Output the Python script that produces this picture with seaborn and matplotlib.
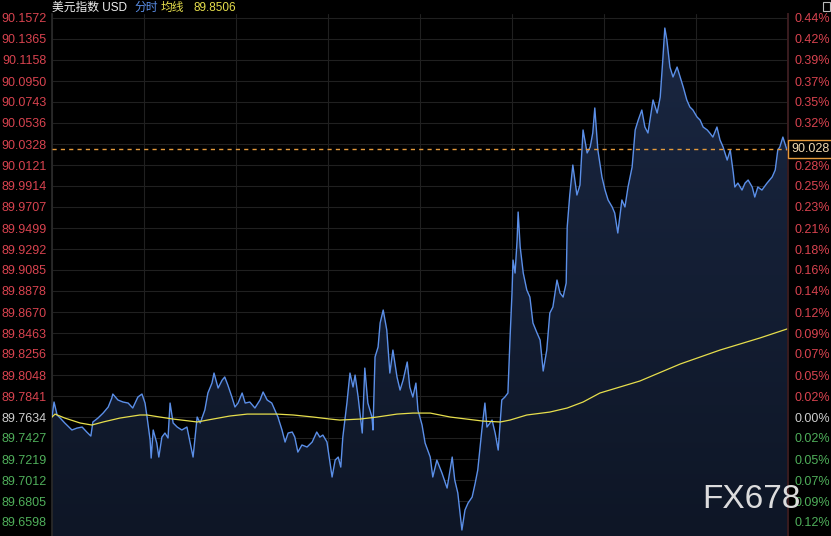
import numpy as np
import pandas as pd
import matplotlib
matplotlib.use("Agg")
import matplotlib.pyplot as plt
import matplotlib.transforms as mtransforms
from matplotlib.colors import LinearSegmentedColormap
from matplotlib.patches import Rectangle
import seaborn as sns

# ------------------------------
# Data
# ------------------------------

prev_close = 89.7634
last_price = 90.028
avg_last = 89.8506

y_ticks = [90.1572, 90.1365, 90.1158, 90.0950, 90.0743, 90.0536, 90.0328, 90.0121,
           89.9914, 89.9707, 89.9499, 89.9292, 89.9085, 89.8878, 89.8670, 89.8463,
           89.8256, 89.8048, 89.7841, 89.7634, 89.7427, 89.7219, 89.7012, 89.6805,
           89.6598]

# minutes into the session
price_t = [0, 4, 10, 16, 25, 39, 49, 59, 68, 76,
           80, 90, 100, 110, 117, 119, 129, 139, 149, 158,
           168, 176, 182, 186, 192, 194, 198, 205, 209, 215,
           221, 227, 231, 237, 245, 254, 264, 270, 276, 284,
           290, 299, 305, 313, 317, 325, 333, 338, 344, 352,
           358, 364, 372, 378, 387, 397, 407, 413, 421, 430,
           436, 442, 450, 456, 462, 470, 475, 481, 489, 499,
           509, 518, 524, 530, 538, 544, 548, 554, 560, 565,
           569, 577, 583, 589, 593, 599, 607, 612, 618, 626,
           628, 632, 638, 642, 648, 655, 661, 667, 675, 681,
           687, 695, 700, 706, 712, 716, 724, 730, 740, 745,
           753, 763, 773, 783, 788, 794, 802, 808, 814, 822,
           828, 833, 841, 847, 851, 861, 867, 873, 880, 886,
           892, 896, 900, 902, 906, 910, 912, 916, 922, 929,
           935, 941, 949, 955, 961, 968, 974, 980, 988, 994,
           1000, 1006, 1008, 1013, 1019, 1027, 1033, 1039, 1047, 1053,
           1058, 1062, 1068, 1076, 1082, 1088, 1096, 1101, 1107, 1115,
           1121, 1127, 1135, 1141, 1147, 1154, 1160, 1166, 1176, 1184,
           1190, 1195, 1199, 1203, 1209, 1215, 1223, 1229, 1235, 1242,
           1248, 1254, 1262, 1268, 1274, 1282, 1287, 1293, 1301, 1307,
           1313, 1321, 1327, 1333, 1336, 1342, 1350, 1356, 1362, 1370,
           1375, 1381, 1389, 1399, 1409, 1415, 1420, 1424, 1430, 1438,
           1440]

price_v = [89.7634, 89.7782, 89.7654, 89.7624, 89.7575, 89.7506, 89.7525, 89.7535, 89.7486, 89.7446,
           89.7585, 89.7624, 89.7673, 89.7733, 89.7821, 89.7861, 89.7802, 89.7782, 89.7772, 89.7723,
           89.7831, 89.7861, 89.7772, 89.7634, 89.7407, 89.7229, 89.7506, 89.7377, 89.7239, 89.7436,
           89.7476, 89.7427, 89.7772, 89.7575, 89.7535, 89.7506, 89.7535, 89.7387, 89.7239, 89.7634,
           89.7575, 89.7703, 89.7871, 89.7969, 89.8068, 89.7920, 89.7999, 89.8029, 89.7950, 89.7831,
           89.7733, 89.7772, 89.7871, 89.7772, 89.7782, 89.7723, 89.7802, 89.7881, 89.7802, 89.7772,
           89.7703, 89.7634, 89.7506, 89.7387, 89.7476, 89.7486, 89.7436, 89.7288, 89.7358, 89.7338,
           89.7387, 89.7486, 89.7436, 89.7456, 89.7387, 89.7180, 89.7042, 89.7209, 89.7239, 89.7140,
           89.7436, 89.7772, 89.8068, 89.7930, 89.8048, 89.7831, 89.7476, 89.8117, 89.7772, 89.7634,
           89.7506, 89.8226, 89.8325, 89.8562, 89.8690, 89.8493, 89.8068, 89.8295, 89.8029, 89.7900,
           89.7999, 89.8177, 89.7930, 89.7831, 89.7969, 89.7703, 89.7555, 89.7377, 89.7239, 89.7042,
           89.7209, 89.7081, 89.6933, 89.7239, 89.7012, 89.6884, 89.6519, 89.6716, 89.6785, 89.6844,
           89.6982, 89.7111, 89.7506, 89.7772, 89.7535, 89.7604, 89.7476, 89.7308, 89.7802, 89.7831,
           89.7871, 89.8394, 89.8858, 89.9183, 89.9055, 89.9381, 89.9657, 89.9312, 89.9055, 89.8887,
           89.8818, 89.8562, 89.8463, 89.8394, 89.8088, 89.8295, 89.8660, 89.8720, 89.8986, 89.8858,
           89.8818, 89.8956, 89.9509, 89.9825, 90.0121, 89.9825, 89.9924, 90.0467, 90.0240, 90.0299,
           90.0437, 90.0684, 90.0269, 90.0003, 89.9874, 89.9776, 89.9707, 89.9647, 89.9450, 89.9776,
           89.9707, 89.9904, 90.0101, 90.0467, 90.0565, 90.0664, 90.0496, 90.0437, 90.0763, 90.0634,
           90.0792, 90.1157, 90.1473, 90.1355, 90.1088, 90.0990, 90.1088, 90.0990, 90.0891, 90.0763,
           90.0694, 90.0664, 90.0595, 90.0565, 90.0496, 90.0467, 90.0437, 90.0397, 90.0496, 90.0368,
           90.0299, 90.0170, 90.0269, 90.0042, 89.9904, 89.9943, 89.9874, 89.9943, 89.9973, 89.9904,
           89.9805, 89.9904, 89.9874, 89.9943, 90.0003, 90.0072, 90.0269, 90.0299, 90.0397, 90.0269,
           90.0280]

avg_t = [0, 6, 25, 55, 78, 100, 133, 172, 186, 211, 237, 270, 284, 315, 348, 382,
         440, 472, 511, 544, 563, 603, 636, 675, 706, 740, 779, 843, 877, 896, 929,
         974, 1008, 1039, 1072, 1150, 1229, 1307, 1385, 1440]
avg_v = [89.7634, 89.7663, 89.7624, 89.7575, 89.7555, 89.7585, 89.7624, 89.7654, 89.7654,
         89.7634, 89.7614, 89.7594, 89.7585, 89.7614, 89.7644, 89.7663, 89.7663, 89.7654,
         89.7634, 89.7614, 89.7604, 89.7614, 89.7634, 89.7663, 89.7673, 89.7673, 89.7634,
         89.7594, 89.7585, 89.7604, 89.7654, 89.7683, 89.7723, 89.7782, 89.7871, 89.7989,
         89.8157, 89.8295, 89.8414, 89.8506]

price_df = pd.DataFrame({"t": price_t, "price": price_v})
avg_df = pd.DataFrame({"t": avg_t, "avg": avg_v})

# ------------------------------
# Style
# ------------------------------

sns.set_theme(style="dark")
plt.rcParams['font.family'] = ['Liberation Sans', 'Noto Sans CJK SC', 'DejaVu Sans']

RED = '#d8434f'
GREEN = '#4fae5a'
NEUTRAL = '#cfcfcf'
BLUE = '#5b8fe8'
YELLOW = '#e6de4c'
ORANGE = '#e59a3c'

W, H = 831, 536
fig = plt.figure(figsize=(W / 100, H / 100), dpi=100, facecolor='black')
ax = fig.add_axes([52 / W, 0, (788 - 52) / W, 522 / H])
ax.set_facecolor('black')

step = (y_ticks[0] - y_ticks[-1]) / (len(y_ticks) - 1)
y_lo = y_ticks[-1] - step * 14 / 21
y_hi = y_ticks[0] + step * 4 / 21

# ------------------------------
# Fill under price line (gradient)
# ------------------------------

fill = ax.fill_between(price_df["t"], price_df["price"], y_lo, color='none', lw=0)
cmap = LinearSegmentedColormap.from_list('area', ['#1a2742', '#0e1626'])
grad = np.linspace(0, 1, 256).reshape(-1, 1)
im = ax.imshow(grad, cmap=cmap, aspect='auto', extent=[0, 1440, y_lo, y_hi],
               origin='upper', zorder=1)
im.set_clip_path(fill.get_paths()[0], transform=ax.transData)

sns.lineplot(data=price_df, x="t", y="price", ax=ax, color=BLUE, lw=1.0,
             estimator=None, sort=False, zorder=3)
sns.lineplot(data=avg_df, x="t", y="avg", ax=ax, color=YELLOW, lw=0.9,
             estimator=None, sort=False, zorder=4)

ax.axhline(last_price, color=ORANGE, ls=(0, (3, 3)), lw=1.0, zorder=5)

# ------------------------------
# Axes, grid, tick labels
# ------------------------------

ax.set_xlim(0, 1440)
ax.set_ylim(y_lo, y_hi)
ax.set_xticks(range(0, 1441, 180))
ax.set_xticklabels([])
ax.set_yticks(y_ticks)
ax.set_yticklabels([f"{v:.4f}" for v in y_ticks])
ax.set_xlabel("")
ax.set_ylabel("")
ax.grid(True, color='#202020', lw=0.8)
ax.set_axisbelow(True)
ax.tick_params(axis='y', length=0, pad=4, labelsize=9)
ax.tick_params(axis='x', length=0)
for s in ['top', 'bottom']:
    ax.spines[s].set_visible(False)
ax.spines['left'].set_color('#2a2a2a')
ax.spines['right'].set_color('#3a1c1f')


def label_color(v):
    if round(v, 4) > prev_close:
        return RED
    if round(v, 4) < prev_close:
        return GREEN
    return NEUTRAL


for lab, v in zip(ax.get_yticklabels(), y_ticks):
    lab.set_color(label_color(v))

ax2 = ax.twinx()
ax2.set_ylim(y_lo, y_hi)
ax2.set_yticks(y_ticks)
ax2.set_yticklabels([f"{abs(v / prev_close - 1) * 100:.2f}%" for v in y_ticks])
ax2.tick_params(axis='y', length=0, pad=5, labelsize=9)
ax2.grid(False)
for s in ['top', 'bottom', 'left']:
    ax2.spines[s].set_visible(False)
ax2.spines['right'].set_color('#3a1c1f')
for lab, v in zip(ax2.get_yticklabels(), y_ticks):
    lab.set_color(label_color(v))

# current price box
trans = mtransforms.blended_transform_factory(ax2.transAxes, ax2.transData)
ax2.text(1.0 + 3 / 736, last_price, f"{last_price:.3f}", transform=trans,
         ha='left', va='center', fontsize=9, color='#f0d8b0', zorder=10,
         clip_on=False,
         bbox=dict(boxstyle='square,pad=0.22', fc='black', ec=ORANGE, lw=1))

# ------------------------------
# Header and watermark
# ------------------------------

ty = 1 - 8 / H
fig.text(52 / W, ty, "美元指数 USD", color='#f0f0f0', fontsize=8.5, va='center')
fig.text(134 / W, ty, "分时", color=BLUE, fontsize=8.5, va='center')
fig.text(161 / W, ty, "均线", color=YELLOW, fontsize=8.5, va='center')
fig.text(193 / W, ty, f"{avg_last:.4f}", color=YELLOW, fontsize=8.5, va='center')

fig.text(702 / W, 1 - 500 / H, "FX678", color='#e8e8e8', fontsize=24,
         va='center', ha='left', alpha=0.95)

fig.patches.append(Rectangle((823 / W, 1 - 11 / H), 7 / W, 9 / H, transform=fig.transFigure,
                             fill=False, ec='#bbbbbb', lw=0.8))

fig.savefig("out.png", dpi=100, facecolor='black')
